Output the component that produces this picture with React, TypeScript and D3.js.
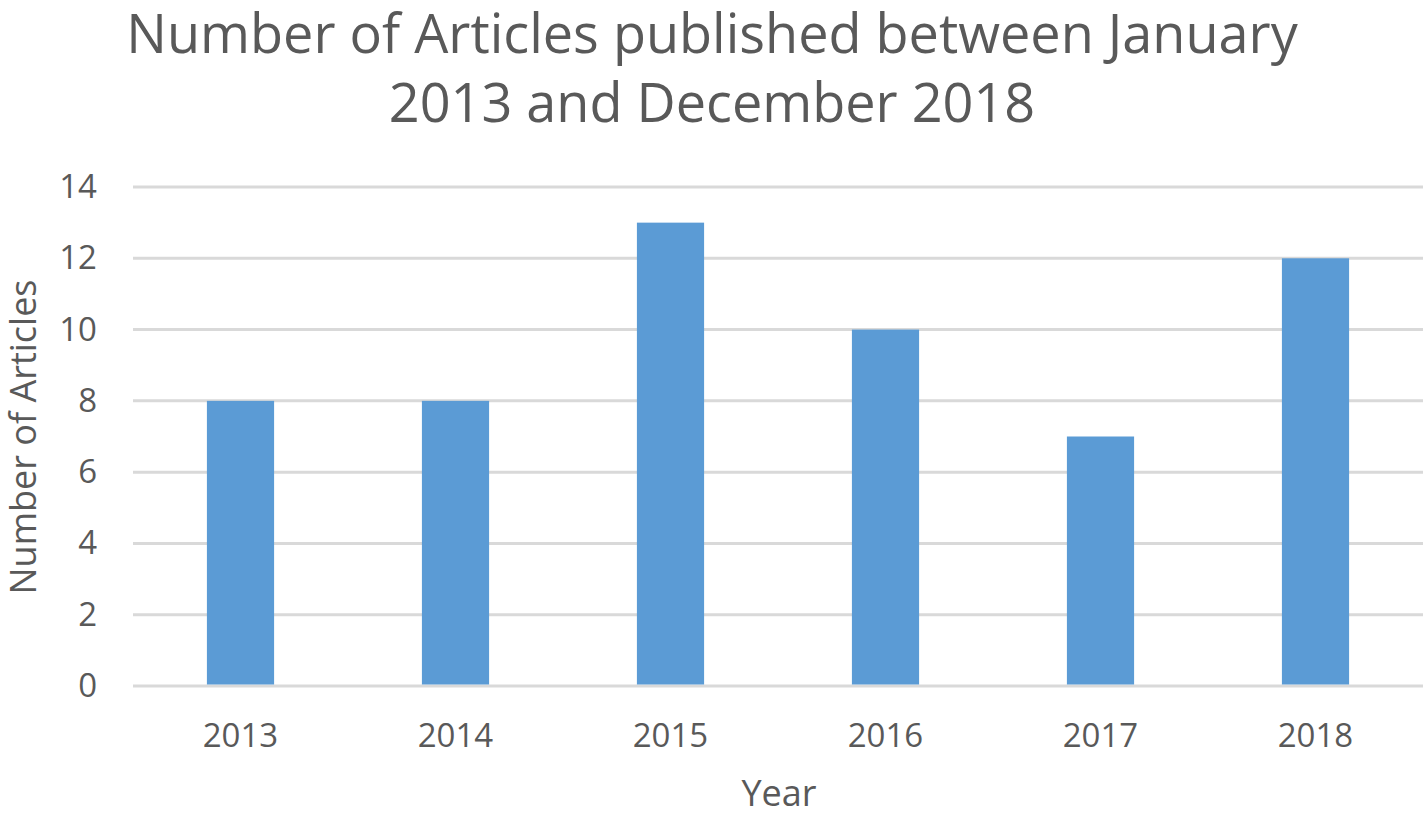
import React from "react";
import * as d3 from "d3";

const years = ["2013", "2014", "2015", "2016", "2017", "2018"];
const articles = [8, 8, 13, 10, 7, 12];
const yTicks = [0, 2, 4, 6, 8, 10, 12, 14];

const W = 1425;
const H = 815;
const FONT = "'Open Sans', 'Segoe UI', sans-serif";
const TEXT = "#595959";

export default function App() {
  const left = 133;
  const right = 1423;
  const top = 187;
  const bottom = 686;

  const x = d3.scaleBand().domain(years).range([left, right]).paddingInner(0).paddingOuter(0);
  const y = d3.scaleLinear().domain([0, 14]).range([bottom, top]);
  const barW = x.bandwidth() / 3.2;

  return (
    <svg width={W} height={H} style={{ position: "absolute", left: 0, top: 0, background: "#fff" }}>
      {/* title */}
      <text x={712} y={53} textAnchor="middle" fontFamily={FONT} fontSize={54} fill={TEXT}>
        Number of Articles published between January
      </text>
      <text x={712} y={122} textAnchor="middle" fontFamily={FONT} fontSize={54} fill={TEXT}>
        2013 and December 2018
      </text>

      {/* gridlines */}
      {yTicks.map((t) => (
        <line key={t} x1={left} x2={right} y1={y(t)} y2={y(t)} stroke="#d9d9d9" strokeWidth={3} />
      ))}

      {/* bars */}
      {years.map((yr, i) => (
        <rect
          key={yr}
          x={x(yr)! + x.bandwidth() / 2 - barW / 2}
          y={y(articles[i])}
          width={barW}
          height={y(0) - y(articles[i]) - 1.5}
          fill="#5b9bd5"
        />
      ))}

      {/* y tick labels */}
      {yTicks.map((t) => (
        <text key={t} x={97} y={y(t) + 11} textAnchor="end" fontFamily={FONT} fontSize={33} fill={TEXT}>
          {t}
        </text>
      ))}

      {/* x tick labels */}
      {years.map((yr) => (
        <text key={yr} x={x(yr)! + x.bandwidth() / 2} y={747} textAnchor="middle" fontFamily={FONT} fontSize={33} fill={TEXT}>
          {yr}
        </text>
      ))}

      {/* axis titles */}
      <text x={779} y={806} textAnchor="middle" fontFamily={FONT} fontSize={36} fill={TEXT}>
        Year
      </text>
      <text
        transform={`translate(36,437) rotate(-90)`}
        textAnchor="middle"
        fontFamily={FONT}
        fontSize={36}
        fill={TEXT}
      >
        Number of Articles
      </text>
    </svg>
  );
}
